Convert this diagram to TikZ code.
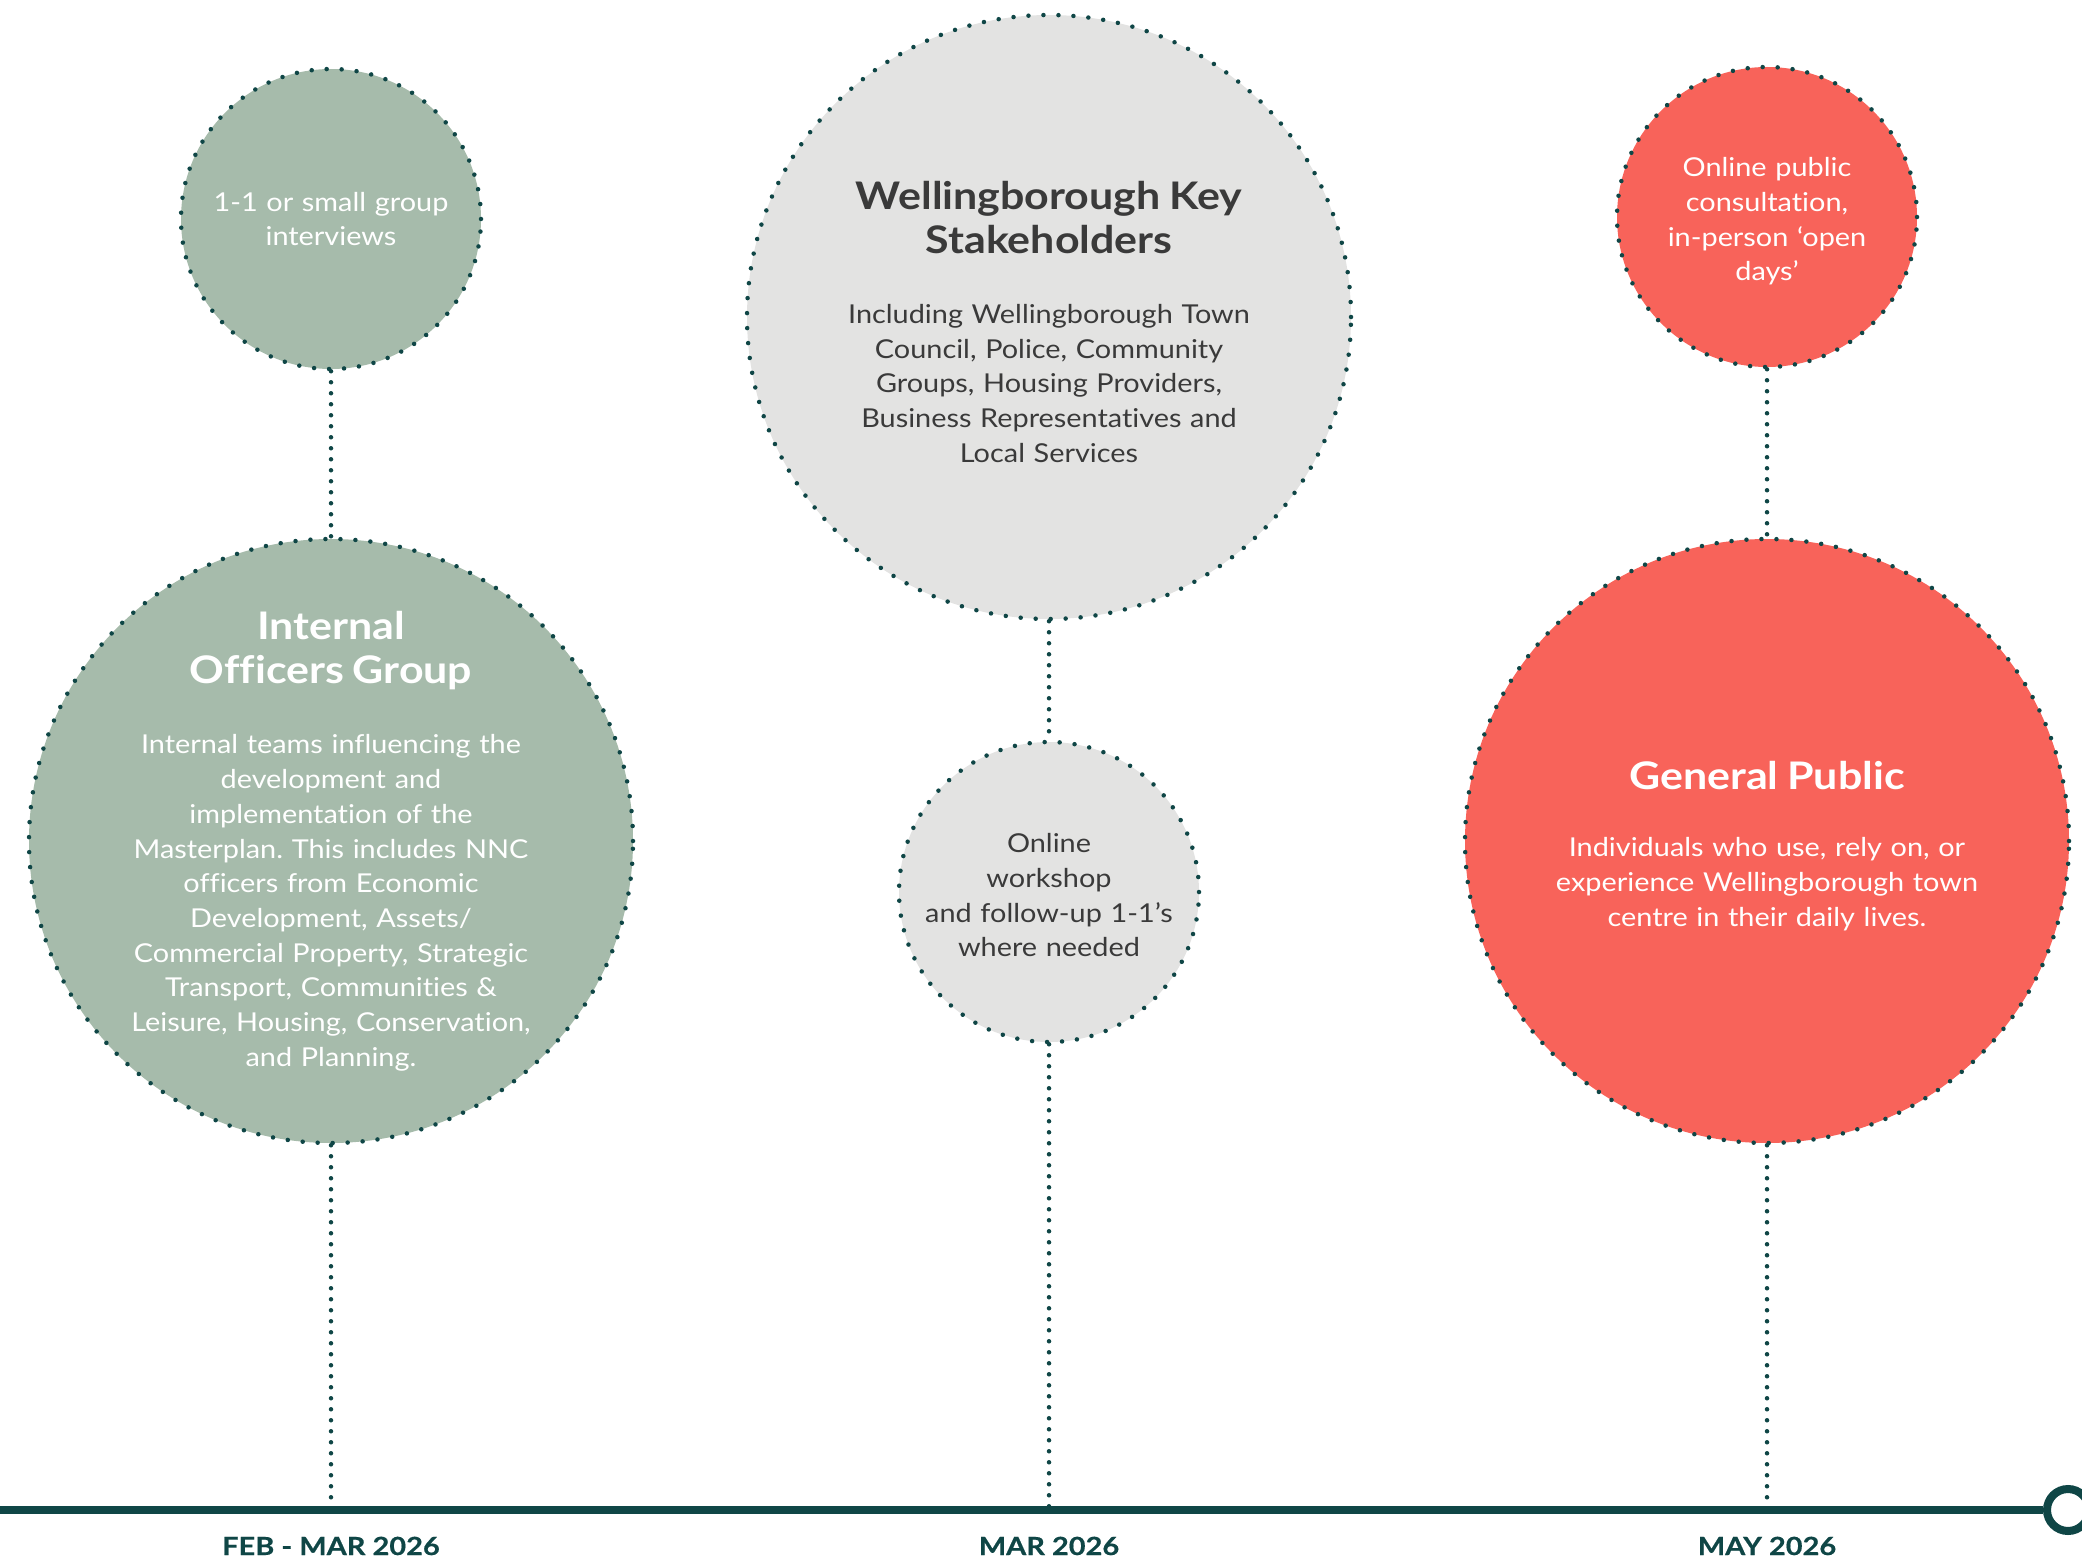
\documentclass[tikz,border=0pt]{standalone}
\usepackage{fontspec}
\setmainfont{Lato}[Ligatures=NoCommon, FakeStretch=1.11,
  BoldFeatures={FakeStretch=1.13}]
\newfontfamily\datefont{Lato}[Ligatures=NoCommon, FakeStretch=1.16,
  BoldFeatures={FakeStretch=1.16, FakeBold=0.6}]
\usetikzlibrary{positioning}
\definecolor{sage}{HTML}{A6BBAB}
\definecolor{coral}{HTML}{F8635A}
\definecolor{mist}{HTML}{E3E3E2}
\definecolor{pine}{HTML}{0F4646}
\definecolor{slate}{HTML}{3A3A3A}
\newcommand{\stagetitle}{\fontsize{38}{44}\selectfont\bfseries}
\tikzset{
  stage/.style = {circle, align=center, inner sep=-120pt, draw=pine,
    line width=4.5pt, line cap=round, dash pattern=on 0pt off 15pt,
    font=\fontsize{26}{34.7}\selectfont\frenchspacing},% cercle pointille
  small_stage/.style = {stage, minimum size=300pt, text width=300pt},% petit cercle
  big_stage/.style = {stage, minimum size=604pt, text width=540pt},% grand cercle
  green_stage/.style = {fill=sage, text=white},
  grey_stage/.style = {fill=mist, text=slate},
  red_stage/.style = {fill=coral, text=white},
  dot_link/.style = {draw=pine, line width=4.5pt, line cap=round,
    dash pattern=on 0pt off 11pt},% lien pointille
  date_label/.style = {font=\datefont\fontsize{25}{30}\selectfont\bfseries, text=pine,
    anchor=base}% date sous la ligne
}

\begin{document}
\begin{tikzpicture}[x=1pt, y=-1pt]
      \useasboundingbox (0,0) rectangle (2082,1562);
      % ligne du temps
      \coordinate (tstart) at (0,1510);
      \coordinate (t1) at (331,1510);
      \coordinate (t2) at (1049,1510);
      \coordinate (t3) at (1767,1510);
      \node [circle, draw=pine, fill=white, line width=8pt, minimum size=42pt,
        inner sep=0pt] (tend) at (2068,1510) {};
      \draw [pine, line width=8pt] (tstart) -- (tend);
      % cercles
      \node [small_stage, green_stage] (interviews) at (331,219)
        {1-1 or small group\\interviews};
      \node [big_stage, green_stage] (officers) at (331,841)
        {{\stagetitle Internal\\Officers Group\par}\vspace{36pt}%
        Internal teams influencing the\\development and\\implementation of the\\
        Masterplan. This includes NNC\\officers from Economic\\Development, Assets/\\
        Commercial Property, Strategic\\Transport, Communities \&\\
        Leisure, Housing, Conservation,\\and Planning.};
      \node [big_stage, grey_stage] (stakeholders) at (1049,317)
        {{\stagetitle\rule{0pt}{38pt}Wellingborough Key\\Stakeholders\par}\vspace{35pt}%
        Including Wellingborough Town\\Council, Police, Community\\
        Groups, Housing Providers,\\Business Representatives and\\Local Services};
      \node [small_stage, grey_stage] (workshop) at (1049,892)
        {\rule{0pt}{26pt}Online\\workshop\\and follow-up 1-1’s\\where needed};
      \node [small_stage, red_stage] (consult) at (1767,217)
        {\rule{0pt}{28pt}Online public\\consultation,\\in-person ‘open\\days’};
      \node [big_stage, red_stage] (public) at (1767,841)
        {{\stagetitle\rule{0pt}{38pt}General Public\par}\vspace{33pt}%
        Individuals who use, rely on, or\\experience Wellingborough town\\
        centre in their daily lives.};
      % liens
      \draw [dot_link] (interviews) -- (officers);
      \draw [dot_link] (officers) -- (t1);
      \draw [dot_link] (stakeholders) -- (workshop);
      \draw [dot_link] (workshop) -- (t2);
      \draw [dot_link] (consult) -- (public);
      \draw [dot_link] (public) -- (t3);
      % dates
      \node [date_label] (d1) at (331,1555) {FEB - MAR 2026};
      \node [date_label] (d2) at (1049,1555) {MAR 2026};
      \node [date_label] (d3) at (1767,1555) {MAY 2026};
\end{tikzpicture}
\end{document}
